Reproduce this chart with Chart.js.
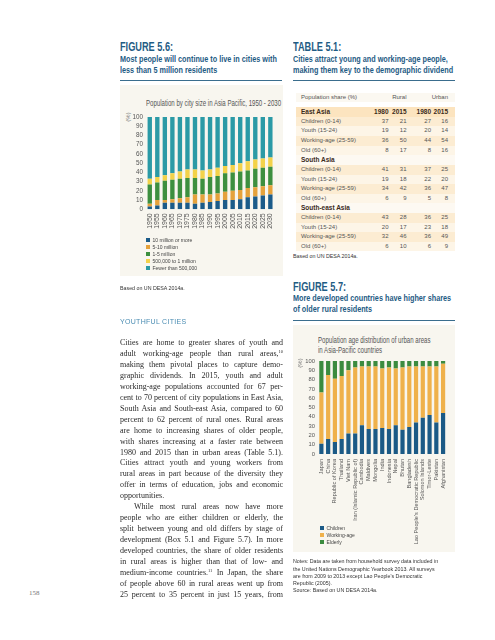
<!DOCTYPE html>
<html>
<head>
<meta charset="utf-8">
<script src="https://cdn.jsdelivr.net/npm/chart.js@4.4.0/dist/chart.umd.min.js"></script>
<style>
  html, body { margin: 0; padding: 0; background: #fff; }
  body { width: 495px; height: 640px; position: relative; overflow: hidden; font-family: 'Liberation Sans', Arial, sans-serif; }
  .abs { position: absolute; white-space: nowrap; }
  .fig-label { font-family: 'Liberation Sans Narrow', sans-serif; font-weight: bold; color: #1f5c84; font-size: 13.5px; line-height: 11px; transform: scaleX(0.68); transform-origin: left center; }
  .fig-sub { font-family: 'Liberation Sans Narrow', sans-serif; font-weight: bold; color: #1f5c84; font-size: 9.2px; line-height: 11px; transform: scaleX(0.79); transform-origin: left top; }
  .rule { position: absolute; height: 1.5px; background: #3a6d8d; }
  .panel { position: absolute; background: #f8f6ef; }
  .chart-title { font-family: 'Liberation Sans Narrow', sans-serif; color: #555; font-size: 9px; line-height: 9.5px; transform: scaleX(0.675); transform-origin: left center; }
  .pct { font-family: 'Liberation Sans Narrow', sans-serif; color: #777; font-size: 6px; transform: translate(-50%, -50%) rotate(-90deg); }
  .legend-item { font-family: 'Liberation Sans Narrow', sans-serif; color: #444; font-size: 5px; line-height: 7px; }
  .legend-item i { display: inline-block; width: 3.5px; height: 3.5px; margin-right: 3px; vertical-align: -0.3px; }
  .source { font-family: 'Liberation Sans', sans-serif; color: #333; font-size: 5.3px; line-height: 7.2px; }
  .section { font-family: 'Liberation Sans', sans-serif; color: #4b8db3; font-size: 7px; letter-spacing: 0.3px; line-height: 9px; }
  .body-line { position: absolute; left: 120px; width: 163px; height: 11px; font-family: 'Liberation Serif', serif; font-size: 8px; line-height: 11px; text-align: justify; text-align-last: justify; color: #2a2a2a; }
  .body-line.last { text-align-last: left; }
  .body-line sup { font-size: 4.5px; line-height: 0; vertical-align: 3px; }
  .trow { position: absolute; left: 296px; width: 159px; height: 9.6px; }
  .tcell { position: absolute; top: 0; line-height: 9.6px; font-family: 'Liberation Sans Narrow', sans-serif; font-size: 6px; color: #555; white-space: nowrap; }
  .tcell.num { text-align: right; width: 20px; }
  .tcell.bold { font-weight: bold; color: #3b2b1b; font-size: 6.5px; }
</style>
</head>
<body>

<!-- headings, left column -->
<div class="abs fig-label" style="left:120px; top:40.5px;">FIGURE 5.6:</div>
<div class="abs fig-sub" style="left:120px; top:53.8px;">Most people will continue to live in cities with<br>less than 5 million residents</div>
<div class="rule" style="left:120px; top:79.5px; width:162px;"></div>

<!-- headings, right column -->
<div class="abs fig-label" style="left:293px; top:40.5px;">TABLE 5.1:</div>
<div class="abs fig-sub" style="left:293px; top:53.8px;">Cities attract young and working-age people,<br>making them key to the demographic dividend</div>
<div class="rule" style="left:293px; top:79.5px; width:162px;"></div>

<!-- figure 5.6 -->
<div class="panel" style="left:120px; top:85px; width:163px; height:191px;"></div>
<div class="abs chart-title" style="left:146px; top:99.2px;">Population by city size in Asia Pacific, 1950 - 2030</div>
<div class="abs pct" style="left:127.5px; top:117px;">(%)</div>
<canvas id="citySizeChart" class="abs" width="163" height="132" style="left:120px; top:110px;"></canvas>
<div id="citySizeLegend" class="abs" style="left:146px; top:236.5px;"></div>
<div class="abs source" style="left:120px; top:285.4px;">Based on UN DESA 2014a.</div>

<!-- table 5.1 -->
<div id="shareTable"></div>
<div class="abs source" style="left:293px; top:253.4px;">Based on UN DESA 2014a.</div>

<!-- body text -->
<div class="abs section" style="left:120px; top:316.5px;">YOUTHFUL CITIES</div>
<div id="bodyText"></div>
<div class="abs" style="left:29px; top:589px; font-family:'Liberation Serif',serif; font-size:7px; color:#777;">158</div>

<!-- figure 5.7 -->
<div class="abs fig-label" style="left:293px; top:280.5px;">FIGURE 5.7:</div>
<div class="abs fig-sub" style="left:293px; top:293.3px;">More developed countries have higher shares<br>of older rural residents</div>
<div class="rule" style="left:293px; top:319.5px; width:162px;"></div>
<div class="panel" style="left:293px; top:325px; width:162px; height:227px;"></div>
<div class="abs chart-title" style="left:318px; top:336px;">Population age distribution of urban areas<br>in Asia-Pacific countries</div>
<div class="abs pct" style="left:300px; top:362.5px;">(%)</div>
<canvas id="ageChart" class="abs" width="162" height="196" style="left:293px; top:354px;"></canvas>
<div id="ageLegend" class="abs" style="left:320px; top:524.5px;"></div>
<div class="abs source" style="left:293px; top:558.4px;">Notes: Data are taken from household survey data included in<br>the United Nations Demographic Yearbook 2013. All surveys<br>are from 2009 to 2013 except Lao People's Democratic<br>Republic (2005).<br>Source: Based on UN DESA 2014a.</div>

<script>
// ---- Figure 5.6 data (% of urban population by city size) ----
const years = ['1950', '1955', '1960', '1965', '1970', '1975', '1980', '1985', '1990', '1995', '2000', '2005', '2010', '2015', '2020', '2025', '2030'];
const tenMillionPlus   = [3, 4, 7, 7, 7, 7, 6, 7, 8, 9, 10, 10, 11, 13, 14, 15, 16];
const fiveToTenMillion = [3, 6, 3, 4, 5, 6, 10, 9, 8, 8, 9, 10, 10, 10, 10, 10, 10];
const oneToFiveMillion = [21, 19, 21, 21, 21, 21, 18, 17, 19, 19, 20, 20, 20, 19, 20, 20, 20];
const halfToOneMillion = [6, 6, 6, 7, 8, 9, 9, 9, 8, 9, 8, 8, 9, 10, 10, 10, 10];
const underHalfMillion = [67, 65, 63, 61, 59, 57, 57, 58, 57, 55, 53, 52, 50, 48, 46, 45, 44];
const citySizeNames  = ['10 million or more', '5-10 million', '1-5 million', '500,000 to 1 million', 'Fewer than 500,000'];
const citySizeColors = ['#1b5b89', '#e5a23c', '#3d8f3f', '#f3d24a', '#2b9aa6'];

// ---- Figure 5.7 data (% of urban population by age group) ----
const countries = ['Japan', 'China', 'Republic of Korea', 'Thailand', 'Viet Nam', 'Iran (Islamic Republic of)', 'Cambodia', 'Maldives', 'Mongolia', 'India', 'Indonesia', 'Nepal', 'Bhutan', 'Bangladesh', "Lao People's Democratic Republic", 'Solomon Islands', 'Timor-Leste', 'Pakistan', 'Afghanistan'];
const children   = [11, 16, 13, 16, 22, 22, 31, 27, 27, 28, 27, 31, 26, 29, 34, 39, 42, 34, 44];
const workingAge = [55, 69, 68, 68, 68, 71, 63, 67, 67, 64, 66, 61, 67, 65, 60, 55, 52, 60, 53];
const elderly    = [34, 15, 19, 16, 10, 7, 6, 6, 6, 8, 7, 8, 7, 6, 6, 6, 6, 6, 3];
const ageNames  = ['Children', 'Working-age', 'Elderly'];
const ageColors = ['#1b5a86', '#efb14b', '#3b8b3f'];

// ---- Table 5.1 data ----
const regions = ['East Asia', 'South Asia', 'South-east Asia'];
const ageGroups = ['Children (0-14)', 'Youth (15-24)', 'Working-age (25-59)', 'Old (60+)'];
const tableYears = ['1980', '2015', '1980', '2015'];
// columns: rural 1980, rural 2015, urban 1980, urban 2015
const eastAsiaShares      = [[37, 21, 27, 16], [19, 12, 20, 14], [36, 50, 44, 54], [8, 17, 8, 16]];
const southAsiaShares     = [[41, 31, 37, 25], [19, 18, 22, 20], [34, 42, 36, 47], [6, 9, 5, 8]];
const southEastAsiaShares = [[43, 28, 36, 25], [20, 17, 23, 18], [32, 46, 36, 49], [6, 10, 6, 9]];

// ---- body copy, one entry per printed line ----
const bodyLines = [
  'Cities are home to greater shares of youth and',
  'adult working-age people than rural areas,<sup>10</sup>',
  'making them pivotal places to capture demo-',
  'graphic dividends. In 2015, youth and adult',
  'working-age populations accounted for 67 per-',
  'cent to 70 percent of city populations in East Asia,',
  'South Asia and South-east Asia, compared to 60',
  'percent to 62 percent of rural ones. Rural areas',
  'are home to increasing shares of older people,',
  'with shares increasing at a faster rate between',
  '1980 and 2015 than in urban areas (Table 5.1).',
  'Cities attract youth and young workers from',
  'rural areas in part because of the diversity they',
  'offer in terms of education, jobs and economic',
  'opportunities.',
  'While most rural areas now have more',
  'people who are either children or elderly, the',
  'split between young and old differs by stage of',
  'development (Box 5.1 and Figure 5.7). In more',
  'developed countries, the share of older residents',
  'in rural areas is higher than that of low- and',
  'medium-income countries.<sup>11</sup> In Japan, the share',
  'of people above 60 in rural areas went up from',
  '25 percent to 35 percent in just 15 years, from'
];

const narrow = "'Liberation Sans Narrow', 'Arial Narrow', sans-serif";

function stackedOptions(cfg) {
    return {
        responsive: false,
        animation: false,
        devicePixelRatio: 1,
        layout: { padding: { top: cfg.padTop, right: cfg.padRight, left: 0, bottom: 0 } },
        plugins: { legend: { display: false }, tooltip: { enabled: false } },
        scales: {
            x: {
                stacked: true,
                grid: { display: false, drawTicks: false },
                border: { display: false },
                ticks: {
                    autoSkip: false, maxRotation: 90, minRotation: 90,
                    padding: cfg.xPad, color: '#555',
                    font: { family: narrow, size: cfg.xFont }
                },
                afterFit: (scale) => { scale.height = cfg.xHeight; }
            },
            y: {
                stacked: true, min: 0, max: 100,
                grid: { display: false, drawTicks: false },
                border: { display: false },
                ticks: { stepSize: 10, autoSkip: false, padding: 3, color: '#555', font: { family: narrow, size: cfg.yFont } },
                afterFit: (scale) => { scale.width = cfg.yWidth; }
            }
        }
    };
}

function buildLegend(el, names, colors) {
    names.forEach((name, i) => {
        const row = document.createElement('div');
        row.className = 'legend-item';
        row.innerHTML = `<i style="background:${colors[i]}"></i>${name}`;
        el.appendChild(row);
    });
}

/* === Figure 5.6: city size stacked bars === */
function initCitySizeChart() {
    const series = [tenMillionPlus, fiveToTenMillion, oneToFiveMillion, halfToOneMillion, underHalfMillion];
    new Chart(document.getElementById('citySizeChart'), {
        type: 'bar',
        data: {
            labels: years,
            datasets: series.map((values, i) => ({
                label: citySizeNames[i],
                data: values,
                backgroundColor: citySizeColors[i],
                borderWidth: 0,
                barPercentage: 0.58,
                categoryPercentage: 1.0
            }))
        },
        options: stackedOptions({ padTop: 7, padRight: 8.4, xHeight: 32.7, yWidth: 26, xPad: 4, xFont: 7, yFont: 6.3 })
    });
    buildLegend(document.getElementById('citySizeLegend'), citySizeNames, citySizeColors);
}

/* === Figure 5.7: urban age distribution === */
function initAgeChart() {
    const series = [children, workingAge, elderly];
    new Chart(document.getElementById('ageChart'), {
        type: 'bar',
        data: {
            labels: countries,
            datasets: series.map((values, i) => ({
                label: ageNames[i],
                data: values,
                backgroundColor: ageColors[i],
                borderWidth: 0,
                barPercentage: 0.62,
                categoryPercentage: 1.0
            }))
        },
        options: stackedOptions({ padTop: 7, padRight: 7.6, xHeight: 96, yWidth: 25, xPad: 5, xFont: 5.6, yFont: 5.8 })
    });
    buildLegend(document.getElementById('ageLegend'), ageNames, ageColors);
}

/* === Table 5.1 === */
function initShareTable() {
    const host = document.getElementById('shareTable');
    const numRight = [388.5, 406.5, 431, 448];
    const rowH = 9.62;
    let y = 112 - rowH / 2;

    const addRow = (top, bg, label, values, bold) => {
        const row = document.createElement('div');
        row.className = 'trow';
        row.style.top = top + 'px';
        row.style.background = bg;
        let html = `<div class="tcell${bold ? ' bold' : ''}" style="left:5px">${label}</div>`;
        values.forEach((v, i) => {
            html += `<div class="tcell num${bold ? ' bold' : ''}" style="left:${numRight[i] - 296 - 20}px">${v}</div>`;
        });
        row.innerHTML = html;
        host.appendChild(row);
    };

    // header row
    const head = document.createElement('div');
    head.className = 'trow';
    head.style.top = (97.7 - rowH / 2) + 'px';
    head.style.background = '#fbf8f1';
    head.innerHTML = `<div class="tcell" style="left:5px">Population share (%)</div>` +
        `<div class="tcell num" style="left:${406.5 - 296 - 20}px">Rural</div>` +
        `<div class="tcell num" style="left:${448 - 296 - 20}px">Urban</div>`;
    host.appendChild(head);

    const blocks = [eastAsiaShares, southAsiaShares, southEastAsiaShares];
    blocks.forEach((shares, r) => {
        addRow(y, r === 0 ? '#fce4bf' : '#fdf9f2', regions[r], r === 0 ? tableYears : [], true);
        y += rowH;
        shares.forEach((vals, g) => {
            addRow(y, g % 2 === 0 ? '#fcecd2' : '#fdf5e7', ageGroups[g], vals, false);
            y += rowH;
        });
    });
}

/* === Body copy === */
function initBodyText() {
    const host = document.getElementById('bodyText');
    bodyLines.forEach((line, i) => {
        const div = document.createElement('div');
        div.className = 'body-line';
        if (i === 14) div.classList.add('last');
        if (i === 15) { div.style.left = '134px'; div.style.width = '149px'; }
        div.style.top = (342.7 + i * 10.93 - 5.5) + 'px';
        div.innerHTML = line;
        host.appendChild(div);
    });
}

initCitySizeChart();
initAgeChart();
initShareTable();
initBodyText();
</script>
</body>
</html>
